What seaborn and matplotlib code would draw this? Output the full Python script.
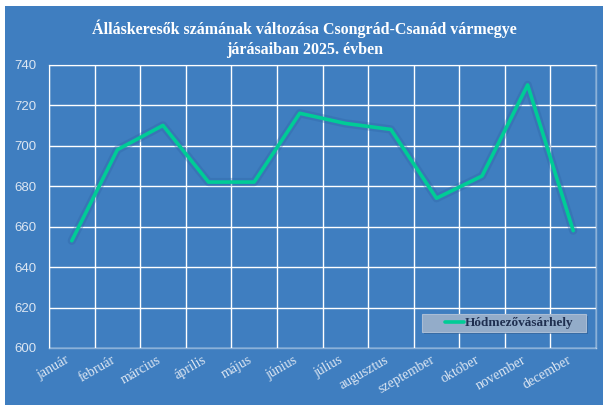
import pandas as pd
import matplotlib.pyplot as plt
import seaborn as sns
from matplotlib.patches import Rectangle
from matplotlib.ticker import FixedLocator

months = ['január', 'február', 'március', 'április', 'május', 'június',
          'július', 'augusztus', 'szeptember', 'október', 'november', 'december']
hodmezovasarhely = [653, 698, 710, 682, 682, 716, 711, 708, 674, 685, 730, 658]
series_name = 'Hódmezővásárhely'
title = 'Álláskeresők számának változása Csongrád-Csanád vármegye\njárásaiban 2025. évben'

df = pd.DataFrame({'honap': months, 'ertek': hodmezovasarhely})

bg = '#3F7EC0'
gridc = (1, 1, 1, 0.4)
labc = '#DCE6F2'

sns.set_style('white')

fig = plt.figure(figsize=(6.03, 4.05), dpi=100, facecolor='white')
fig.patches.append(Rectangle((5 / 603, 0), 1, 1 - 6 / 405, transform=fig.transFigure,
                             facecolor=bg, edgecolor='none', zorder=-1))
ax = fig.add_axes([49 / 603, 57 / 405, 547 / 603, 283.3 / 405])
ax.set_facecolor(bg)

# soft glow under the line
sns.lineplot(x='honap', y='ertek', data=df, ax=ax, color='#2E65A6', linewidth=6,
             alpha=0.35, legend=False, sort=False)
sns.lineplot(x='honap', y='ertek', data=df, ax=ax, color='#00CC96', linewidth=2.6,
             label=series_name, sort=False)

ax.set_ylim(600, 740)
ax.set_xlim(-0.5, len(months) - 0.5)
ax.set_yticks(range(600, 741, 20))
ax.xaxis.set_minor_locator(FixedLocator([i - 0.5 for i in range(len(months) + 1)]))
ax.grid(True, axis='y', which='major', color=gridc, linewidth=1)
ax.grid(True, axis='x', which='minor', color=gridc, linewidth=1)
ax.grid(False, axis='x', which='major')
for s in ax.spines.values():
    s.set_color(gridc)
    s.set_linewidth(1)

ax.set_xlabel('')
ax.set_ylabel('')
ax.tick_params(axis='both', which='both', length=0)
ax.tick_params(axis='y', pad=9)
ax.tick_params(axis='x', pad=4)
for t in ax.get_yticklabels():
    t.set_fontfamily('Liberation Sans')
    t.set_fontsize(9.5)
    t.set_color(labc)
ax.set_xticks(range(len(months)))
ax.set_xticklabels(months, rotation=30, ha='right', rotation_mode='default',
                   fontfamily='Liberation Serif', fontsize=10, color=labc)

fig.text(0.505, 0.905, title, ha='center', va='center', fontfamily='Liberation Serif',
         fontweight='bold', fontsize=11.5, color='white', linespacing=1.3)

# legend box drawn like the Excel one, wider than the entry itself
ax.add_patch(Rectangle((0.686, 0.050), 0.30, 0.0635, transform=ax.transAxes,
                       facecolor='#2A5A90', edgecolor='none', alpha=0.6, zorder=4))
ax.add_patch(Rectangle((0.682, 0.0565), 0.30, 0.0635, transform=ax.transAxes,
                       facecolor='#93ACC9', edgecolor='#A9BDD5', linewidth=0.8, zorder=5))
leg = ax.legend(loc='center', bbox_to_anchor=(0.842, 0.088), frameon=False,
                handlelength=1.4, handletextpad=0.1, borderpad=0.2,
                prop={'family': 'Liberation Serif', 'weight': 'bold', 'size': 9.5})
leg.set_zorder(6)
for t in leg.get_texts():
    t.set_color('#1F2F50')

plt.savefig('out.png', dpi=100, facecolor='white')
